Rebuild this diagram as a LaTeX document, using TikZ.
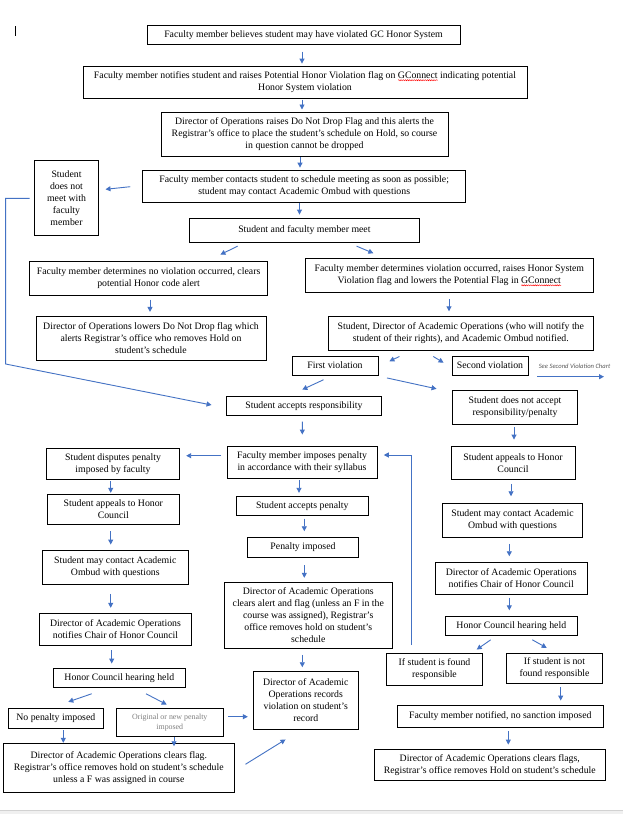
\documentclass[tikz,border=0pt]{standalone}
\usepackage{fontspec}
\setmainfont{Liberation Serif}
\newfontfamily\calib{Carlito}
\usetikzlibrary{arrows.meta,calc,decorations.pathmorphing}
\definecolor{arrblue}{HTML}{4472C4}
\definecolor{barfill}{HTML}{F0F0F0}
\definecolor{barline}{HTML}{D2D2D2}
\definecolor{seegray}{HTML}{595959}
\definecolor{onpgray}{HTML}{7F7F7F}
\newcommand\sqword[1]{\setbox0=\hbox{#1}\rlap{\raisebox{-2.4pt}{\tikz\draw[red,line width=0.45pt,decorate,decoration={snake,amplitude=0.55pt,segment length=2.2pt}] (0pt,0pt)--(\the\wd0,0pt);}}#1}
\begin{document}
\begin{tikzpicture}[x=1pt,y=-1pt,
  box/.style={draw=black,line width=0.9pt,inner sep=0pt,align=center,font=\fontsize{9.8}{12}\selectfont},
  arr/.style={draw=arrblue,line width=0.9pt,-{Triangle[length=5pt,width=5pt]}},
  seetext/.style={inner sep=0pt,text=seegray,font=\calib\itshape\fontsize{6.6}{7.5}\selectfont}]
\useasboundingbox (0,0) rectangle (623,814);
\fill[white] (0,0) rectangle (623,814);
\fill[barfill] (0,810) rectangle (623,814);
\draw[barline,line width=0.8pt] (0,810)--(623,810);
\draw[line width=0.6pt] (15.5,26)--(15.5,35.5);

% nodes
\node[box,minimum width=313pt,minimum height=19.3pt] (B1) at (303.5,34.7) {Faculty member believes student may have violated GC Honor System};
\node[box,minimum width=444pt,minimum height=32.3pt] (B2) at (305,82.2) {Faculty member notifies student and raises Potential Honor Violation flag on \sqword{GConnect} indicating potential\\Honor System violation};
\node[box,minimum width=287pt,minimum height=44.7pt] (B3) at (304.5,134.3) {Director of Operations raises Do Not Drop Flag and this alerts the\\Registrar’s office to place the student’s schedule on Hold, so course\\in question cannot be dropped};
\node[box,minimum width=323pt,minimum height=32.3pt] (B4) at (304.2,186.2) {Faculty member contacts student to schedule meeting as soon as possible;\\student may contact Academic Ombud with questions};
\node[box,minimum width=63.5pt,minimum height=74.7pt] (SDNM) at (66.5,197.7) {Student\\does not\\meet with\\faculty\\member};
\node[box,minimum width=230.7pt,minimum height=24pt] (MEET) at (304.4,230.3) {Student and faculty member meet};
\node[box,minimum width=238pt,minimum height=33.7pt] (NOV) at (148.6,278.2) {Faculty member determines no violation occurred, clears\\potential Honor code alert};
\node[box,minimum width=288.5pt,minimum height=33.6pt] (VIO) at (449.3,275.5) {Faculty member determines violation occurred, raises Honor System\\Violation flag and lowers the Potential Flag in \sqword{GConnect}};
\node[box,minimum width=230pt,minimum height=43.7pt] (DLO) at (151,338.2) {Director of Operations lowers Do Not Drop flag which\\alerts Registrar’s office who removes Hold on\\student’s schedule};
\node[box,minimum width=265.5pt,minimum height=33.7pt] (SDAO) at (460.8,333.2) {Student, Director of Academic Operations (who will notify the\\student of their rights), and Academic Ombud notified.};
\node[box,minimum width=86pt,minimum height=19pt] (FV) at (335,365.5) {First violation};
\node[box,minimum width=76pt,minimum height=19pt] (SV) at (490,365.5) {Second violation};
\node[seetext] (SEE) at (574.5,366.5) {See Second Violation Chart};
\coordinate (seeend) at (604,376.7);
\node[box,minimum width=155pt,minimum height=19.7pt] (SAR) at (303.9,405.9) {Student accepts responsibility};
\node[box,minimum width=125pt,minimum height=33.3pt] (SDNA) at (515,407.3) {Student does not accept\\responsibility/penalty};
\node[box,minimum width=150pt,minimum height=32pt] (FIP) at (302,462) {Faculty member imposes penalty\\in accordance with their syllabus};
\node[box,minimum width=132.6pt,minimum height=31pt] (SDP) at (113,463.8) {Student disputes penalty\\imposed by faculty};
\node[box,minimum width=124pt,minimum height=32.6pt] (SAHCR) at (513,463) {Student appeals to Honor\\Council};
\node[box,minimum width=132pt,minimum height=30pt] (SAHCL) at (113.3,509.3) {Student appeals to Honor\\Council};
\node[box,minimum width=132.7pt,minimum height=19.7pt] (SAP) at (302.3,505.8) {Student accepts penalty};
\node[box,minimum width=140.4pt,minimum height=34pt] (SMCR) at (512.5,520.3) {Student may contact Academic\\Ombud with questions};
\node[box,minimum width=111.4pt,minimum height=20pt] (PI) at (303,547.3) {Penalty imposed};
\node[box,minimum width=146pt,minimum height=34pt] (SMCL) at (115.3,567) {Student may contact Academic\\Ombud with questions};
\node[box,minimum width=152.3pt,minimum height=32pt] (DNR) at (511.2,578.3) {Director of Academic Operations\\notifies Chair of Honor Council};
\node[box,minimum width=168.7pt,minimum height=66pt] (DCA) at (308.3,615.3) {Director of Academic Operations\\clears alert and flag (unless an F in the\\course was assigned), Registrar’s\\office removes hold on student’s\\schedule};
\node[box,minimum width=152.4pt,minimum height=32pt] (DNL) at (115.5,629.3) {Director of Academic Operations\\notifies Chair of Honor Council};
\node[box,minimum width=132pt,minimum height=18.7pt] (HCHR) at (511.3,625.7) {Honor Council hearing held};
\node[box,minimum width=96.4pt,minimum height=32pt] (IFR) at (434.5,669.3) {If student is found\\responsible};
\node[box,minimum width=96.4pt,minimum height=30pt] (IFNR) at (554.5,668.3) {If student is not\\found responsible};
\node[box,minimum width=132pt,minimum height=19pt] (HCHL) at (119.3,677.8) {Honor Council hearing held};
\node[box,minimum width=105pt,minimum height=57.6pt] (DREC) at (305.8,700.5) {Director of Academic\\Operations records\\violation on student’s\\record};
\node[box,minimum width=206pt,minimum height=21.6pt] (FNN) at (500.3,716.5) {Faculty member notified, no sanction imposed};
\node[box,minimum width=95pt,minimum height=20pt] (NPI) at (55.8,718.3) {No penalty imposed};
\node[box,minimum width=107pt,minimum height=28pt,text=onpgray,font=\fontsize{7.9}{10}\selectfont] (ONP) at (169.8,722.3) {Original or new penalty\\imposed};
\node[box,minimum width=231pt,minimum height=49pt] (DCF) at (118.8,767.8) {Director of Academic Operations clears flag.\\Registrar’s office removes hold on student’s schedule\\unless a F was assigned in course};
\node[box,minimum width=231pt,minimum height=31.3pt] (DCFS) at (489.8,764.7) {Director of Academic Operations clears flags,\\Registrar’s office removes Hold on student’s schedule};

\coordinate (loopA) at (5.6,198.3);
\coordinate (loopB) at (5.6,364);
\coordinate (retA) at (411.7,645);

% connectors
\draw[arr] ($(B1.south)+(-1.5,6.7)$) -- ($(B2.north)+(-3,-2)$);
\draw[arr] ($(B2.south)+(-3,0.7)$) -- ($(B3.north)+(-2.5,-2)$);
\draw[arr] ($(B3.south)+(-4.5,0)$) -- ($(B4.north)+(-4.2,-2)$);
\draw[arr] ($(B4.west)+(-12,0.5)$) -- ($(SDNM.east)+(6.8,-8.4)$);
\draw[arr] ($(B4.south)+(-4.7,0)$) -- ($(MEET.north)+(-4.9,-3.3)$);
\draw[arr] ($(MEET.south)+(-66.8,3.4)$) -- ($(NOV.north)+(71.8,-6.3)$);
\draw[arr] ($(MEET.south)+(52.2,3.4)$) -- ($(VIO.north)+(-75.9,-5)$);
\draw[arr] ($(NOV.south)+(1.4,4)$) -- ($(DLO.north)+(-1,-4)$);
\draw[arr] ($(VIO.south)+(-0.3,6.7)$) -- ($(SDAO.north)+(-11.8,-4.6)$);
\draw[arr] ($(SDAO.south)+(-61.4,6)$) -- ($(FV.north)+(54.4,5.7)$);
\draw[arr] ($(SDAO.south)+(-27.5,6)$) -- ($(SV.west)+(-8,-2.8)$);
\draw[arr] ($(SV.east)+(9,11.2)$) -- (seeend);
\draw[arr] ($(FV.south)+(-11.5,4.3)$) -- ($(SAR.north)+(-1.6,-6)$);
\draw[arr] ($(FV.south)+(52,2.5)$) -- ($(SDNA.west)+(-15.5,-18.5)$);
\draw[arr] ($(SDNM.west)+(-4.7,0.6)$) -- (loopA) -- (loopB) -- ($(SAR.west)+(-14.4,-0.9)$);
\draw[arr] ($(SAR.south)+(-1.6,5.3)$) -- ($(FIP.north)+(0.3,-11)$);
\draw[arr] ($(SDNA.south)+(-1,2.7)$) -- ($(SAHCR.north)+(1,-6.7)$);
\draw[arr] ($(FIP.west)+(-5.4,-6.3)$) -- ($(SDP.east)+(6.4,-8.1)$);
\draw[arr] (retA) |- ($(FIP.east)+(6.3,-7)$);
\draw[arr] ($(FIP.south)+(-3,2)$) -- ($(SAP.north)+(-3.3,-2.7)$);
\draw[arr] ($(SAP.south)+(2,2.6)$) -- ($(PI.north)+(1.3,-5.6)$);
\draw[arr] ($(PI.south)+(1.3,7.7)$) -- ($(DCA.north)+(-4,-4)$);
\draw[arr] ($(DCA.south)+(-6,6)$) -- ($(DREC.north)+(-3.5,-4)$);
\draw[arr] ($(SDP.south)+(-2.3,1.7)$) -- ($(SAHCL.north)+(-2.6,-1)$);
\draw[arr] ($(SAHCL.south)+(-2.6,6.7)$) -- ($(SMCL.north)+(-4.6,-5)$);
\draw[arr] ($(SMCL.south)+(-4.6,9.3)$) -- ($(DNL.north)+(-4.8,-5)$);
\draw[arr] ($(DNL.south)+(-3.8,4.7)$) -- ($(HCHL.north)+(-7.6,-4.3)$);
\draw[arr] ($(SAHCR.south)+(-2,4)$) -- ($(SMCR.north)+(-1.5,-6.6)$);
\draw[arr] ($(SMCR.south)+(-3.2,6)$) -- ($(DNR.north)+(-1.9,-5.6)$);
\draw[arr] ($(DNR.south)+(-1.9,3)$) -- ($(HCHR.north)+(-2,-5.6)$);
\draw[arr] ($(HCHR.south)+(-20.6,4.3)$) -- ($(IFR.north)+(42.2,-3.3)$);
\draw[arr] ($(HCHR.south)+(21,4.3)$) -- ($(IFNR.north)+(-7.8,-5)$);
\draw[arr] ($(HCHL.south)+(-27.6,6)$) -- ($(NPI.north)+(12.5,-6)$);
\draw[arr] ($(HCHL.south)+(26.7,6)$) -- ($(ONP.north)+(-3.1,-3.3)$);
\draw[arr] ($(ONP.east)+(4.4,-5.6)$) -- ($(DREC.west)+(-5,16.2)$);
\draw[arr] ($(NPI.south)+(7.5,1.7)$) -- ($(DCF.north)+(-55.5,0)$);
\draw[arr] ($(ONP.south)+(4.2,0)$) -- ($(DCF.north)+(55.2,3.4)$);
\draw[arr] ($(DCF.east)+(10.7,-3.5)$) -- ($(DREC.south west)+(32.7,9.7)$);
\draw[arr] ($(IFNR.south)+(6.2,3.4)$) -- ($(FNN.north)+(60.4,-4.7)$);
\draw[arr] ($(FNN.south)+(8,3.4)$) -- ($(DCFS.north)+(18.5,-4)$);
\end{tikzpicture}
\end{document}
